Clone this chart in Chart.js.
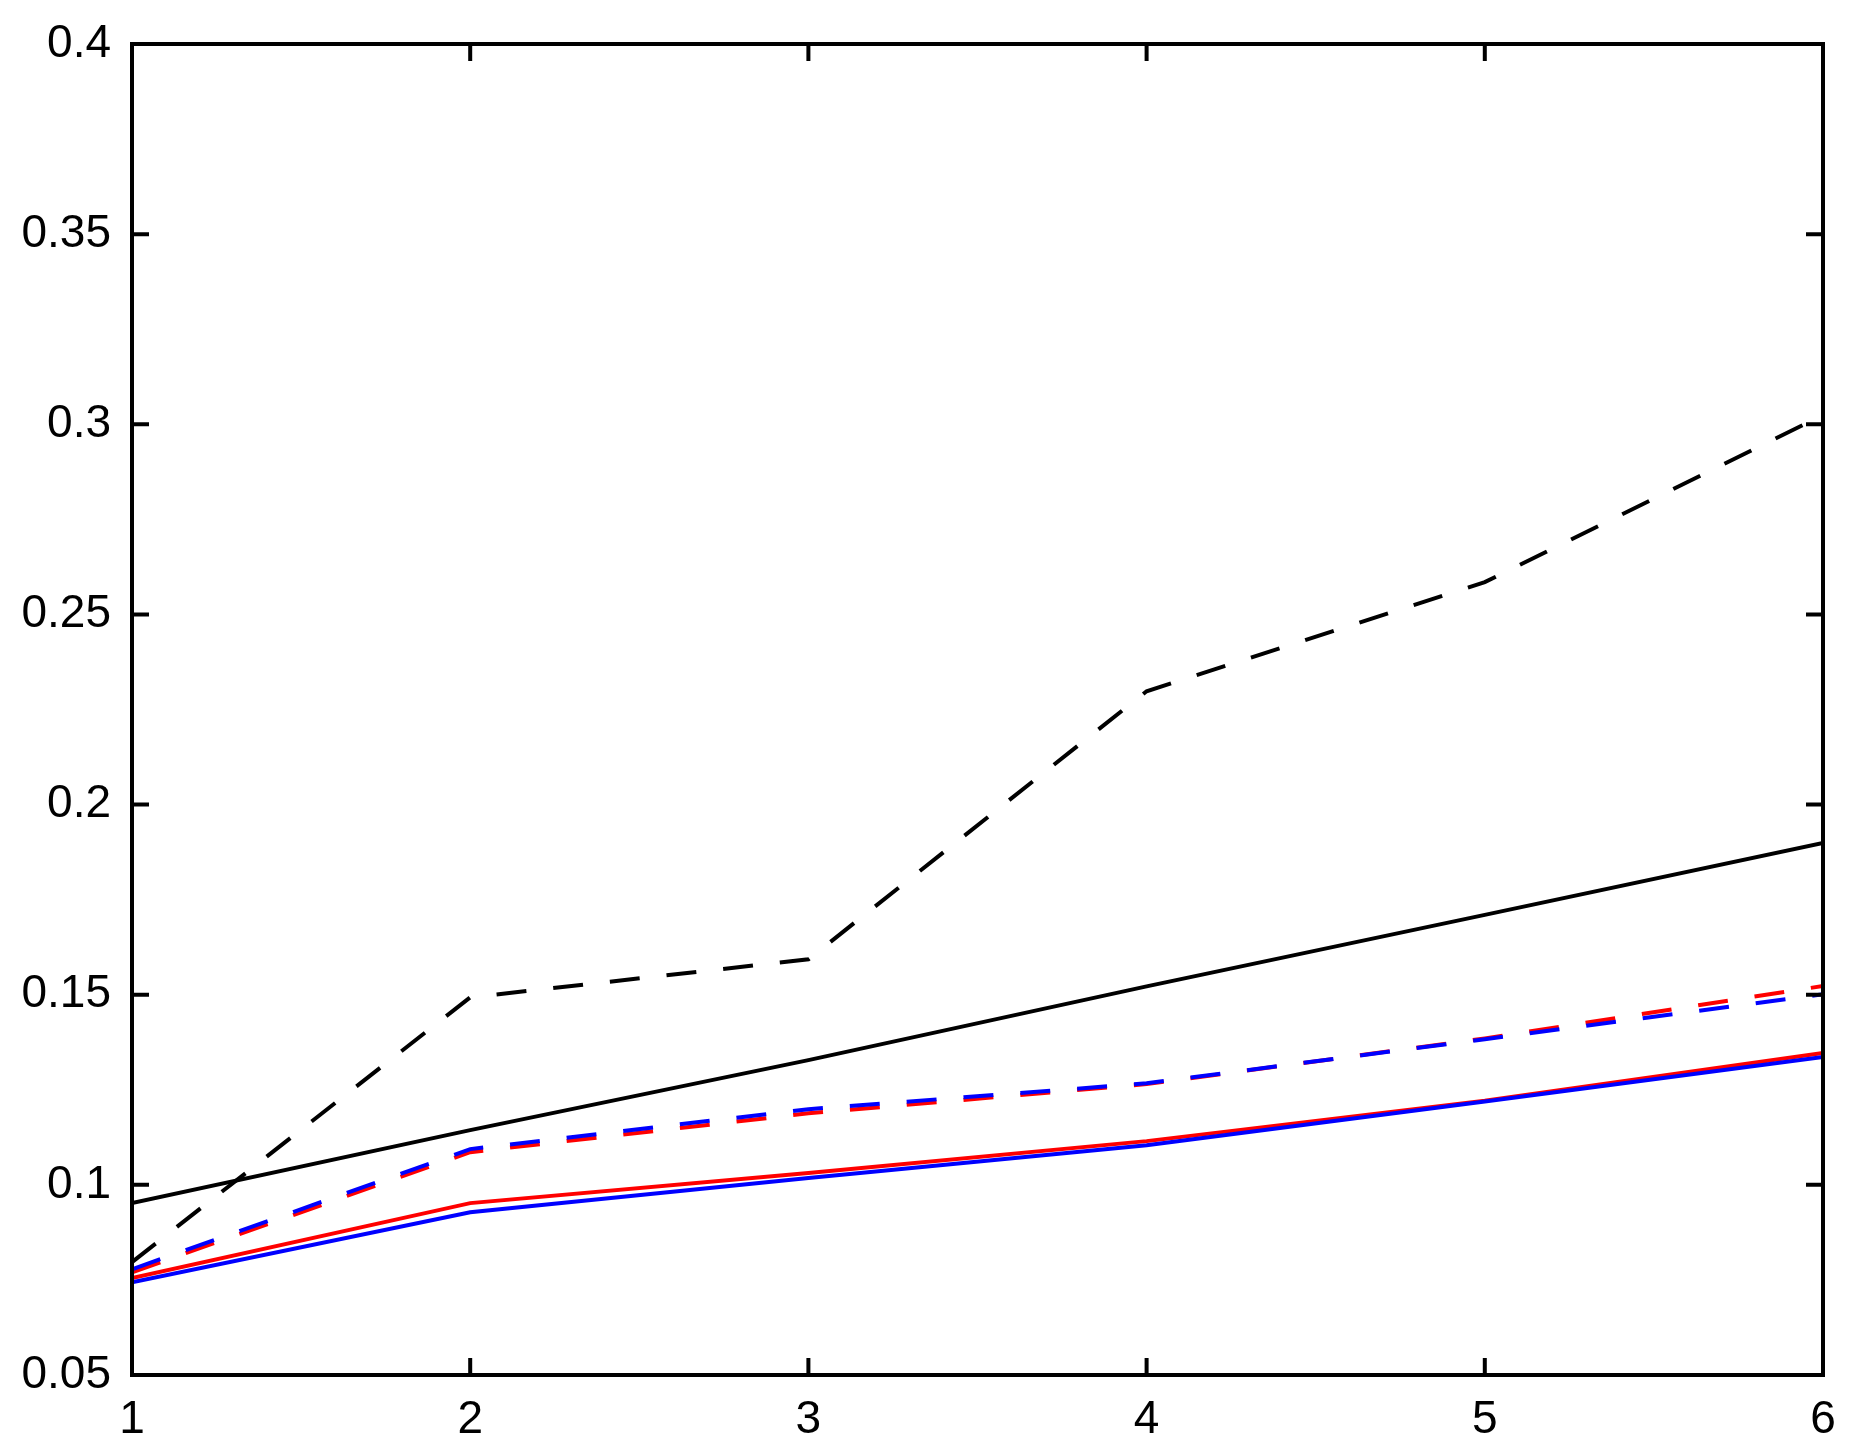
<!DOCTYPE html>
<html>
<head>
<meta charset="utf-8">
<script src="https://cdn.jsdelivr.net/npm/chart.js@4.4.0/dist/chart.umd.min.js"></script>
<style>
html,body{margin:0;padding:0;background:#fff;}
#wrap{width:1851px;height:1442px;}
</style>
</head>
<body>
<div id="wrap"><canvas id="c" width="1851" height="1442"></canvas></div>
<script>
const xValues = [1, 2, 3, 4, 5, 6];
const xTicks = [1, 2, 3, 4, 5, 6];
const yTicks = [0.05, 0.1, 0.15, 0.2, 0.25, 0.3, 0.35, 0.4];

const blackSolid  = [0.0952, 0.1144, 0.1328, 0.1522, 0.1710, 0.1899];
const blackDashed = [0.0797, 0.1493, 0.1593, 0.2298, 0.2585, 0.3024];
const redSolid    = [0.0755, 0.0952, 0.1031, 0.1115, 0.1221, 0.1347];
const redDashed   = [0.0770, 0.1086, 0.1188, 0.1265, 0.1385, 0.1523];
const blueSolid   = [0.0744, 0.0928, 0.1018, 0.1104, 0.1219, 0.1336];
const blueDashed  = [0.0778, 0.1094, 0.1199, 0.1267, 0.1383, 0.1501];

function pts(arr){ return xValues.map((x,i)=>({x:x, y:arr[i]})); }

const DASH = [30, 27];
function ds(data, color, dashed){
  return {
    data: pts(data),
    borderColor: color,
    backgroundColor: color,
    borderWidth: 4,
    borderDash: dashed ? DASH : [],
    pointRadius: 0,
    tension: 0,
    fill: false
  };
}

const framePlugin = {
  id: 'frame',
  afterDraw(chart){
    const ctx = chart.ctx;
    const a = chart.chartArea;
    const xs = chart.scales.x, ys = chart.scales.y;
    ctx.save();
    ctx.strokeStyle = '#000';
    ctx.lineWidth = 4;
    ctx.lineCap = 'butt';
    ctx.strokeRect(a.left, a.top, a.right - a.left, a.bottom - a.top);
    const L = 17;
    ctx.beginPath();
    xTicks.forEach(v => {
      const px = xs.getPixelForValue(v);
      ctx.moveTo(px, a.bottom); ctx.lineTo(px, a.bottom - L);
      ctx.moveTo(px, a.top); ctx.lineTo(px, a.top + L);
    });
    yTicks.forEach(v => {
      const py = ys.getPixelForValue(v);
      ctx.moveTo(a.left, py); ctx.lineTo(a.left + L, py);
      ctx.moveTo(a.right, py); ctx.lineTo(a.right - L, py);
    });
    ctx.stroke();
    ctx.restore();
  }
};

const font = {family: '"Liberation Sans", Arial, Helvetica, sans-serif', size: 46};

new Chart(document.getElementById('c'), {
  type: 'line',
  data: {
    datasets: [
      ds(blueDashed, '#0000ff', true),
      ds(blueSolid, '#0000ff', false),
      ds(redDashed, '#ff0000', true),
      ds(redSolid, '#ff0000', false),
      ds(blackDashed, '#000000', true),
      ds(blackSolid, '#000000', false)
    ]
  },
  options: {
    responsive: false,
    animation: false,
    devicePixelRatio: 1,
    layout: {padding: {top: 44, right: 28, left: 0, bottom: 0}},
    plugins: {legend: {display: false}, tooltip: {enabled: false}},
    scales: {
      x: {
        type: 'linear',
        min: 1, max: 6,
        afterBuildTicks(s){ s.ticks = xTicks.map(v => ({value: v})); },
        afterFit(s){ s.height = 67; s.paddingLeft = 0; s.paddingRight = 0; s.paddingTop = 0; s.paddingBottom = 0; },
        grid: {display: false, drawTicks: false},
        border: {display: false},
        ticks: {color: '#000', font: font, padding: 18, maxRotation: 0, autoSkip: false,
                callback: v => String(v)}
      },
      y: {
        type: 'linear',
        min: 0.05, max: 0.4,
        afterBuildTicks(s){ s.ticks = yTicks.map(v => ({value: v})); },
        afterFit(s){ s.width = 132; s.paddingLeft = 0; s.paddingRight = 0; s.paddingTop = 0; s.paddingBottom = 0; },
        grid: {display: false, drawTicks: false},
        border: {display: false},
        ticks: {color: '#000', font: font, padding: 21, autoSkip: false,
                callback: v => String(Number(v.toFixed(2)))}
      }
    }
  },
  plugins: [framePlugin]
});
</script>
</body>
</html>
